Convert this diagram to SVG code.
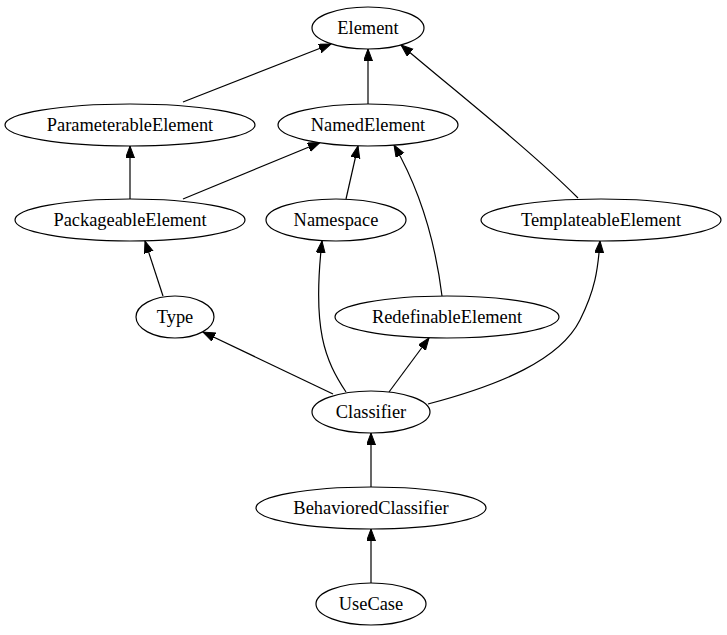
<svg xmlns="http://www.w3.org/2000/svg" width="727" height="635" viewBox="0 0 727 635">
<style>
.n ellipse{fill:#fff;stroke:#000;stroke-width:1.2}
.n text{font-family:"Liberation Serif","Times New Roman",serif;font-size:18.4px;text-anchor:middle;fill:#000}
#edges path{fill:none;stroke:#000;stroke-width:1.2;marker-end:url(#ah)}
</style>
<defs>
<marker id="ah" markerUnits="userSpaceOnUse" markerWidth="13" markerHeight="10" refX="12" refY="4.5" orient="auto" viewBox="0 0 13 10">
<path d="M0,0 L12,4.5 L0,9 z" fill="#000" stroke="#000" stroke-width="1"/>
</marker>
</defs>
<rect width="727" height="635" fill="#fff"/>
<g id="edges">
<path d="M183,102 L331,44"/>
<path d="M368,104 L368,49"/>
<path d="M578,198 C530,150 460,95 401,45"/>
<path d="M130,199 L130,146"/>
<path d="M183,199 L320,142.5"/>
<path d="M346,199 L358,146"/>
<path d="M442,296 C435,240 420,190 394,145"/>
<path d="M163,296 L145,241"/>
<path d="M333,394 L203,332"/>
<path d="M346,392 C325,360 312,330 322,241"/>
<path d="M389,392 L429,338"/>
<path d="M428,404 C500,385 560,360 580,320 C595,290 598,270 600,241"/>
<path d="M371,487 L371,433"/>
<path d="M371,583 L371,529"/>
</g>
<g id="Element" class="n"><ellipse cx="368" cy="28" rx="56" ry="21"/><text x="368" y="34">Element</text></g>
<g id="ParameterableElement" class="n"><ellipse cx="130" cy="125" rx="125" ry="21"/><text x="130" y="131">ParameterableElement</text></g>
<g id="NamedElement" class="n"><ellipse cx="368" cy="125" rx="90" ry="21"/><text x="368" y="131">NamedElement</text></g>
<g id="PackageableElement" class="n"><ellipse cx="130" cy="220" rx="115" ry="21"/><text x="130" y="226">PackageableElement</text></g>
<g id="Namespace" class="n"><ellipse cx="336" cy="220" rx="70" ry="21"/><text x="336" y="226">Namespace</text></g>
<g id="TemplateableElement" class="n"><ellipse cx="601" cy="220" rx="120" ry="21"/><text x="601" y="226">TemplateableElement</text></g>
<g id="Type" class="n"><ellipse cx="175" cy="317" rx="39" ry="21"/><text x="175" y="323">Type</text></g>
<g id="RedefinableElement" class="n"><ellipse cx="447" cy="317" rx="112" ry="21"/><text x="447" y="323">RedefinableElement</text></g>
<g id="Classifier" class="n"><ellipse cx="371" cy="412" rx="59" ry="21"/><text x="371" y="418">Classifier</text></g>
<g id="BehavioredClassifier" class="n"><ellipse cx="371" cy="508" rx="115" ry="21"/><text x="371" y="514">BehavioredClassifier</text></g>
<g id="UseCase" class="n"><ellipse cx="371" cy="604" rx="55" ry="21"/><text x="371" y="610">UseCase</text></g>
</svg>
